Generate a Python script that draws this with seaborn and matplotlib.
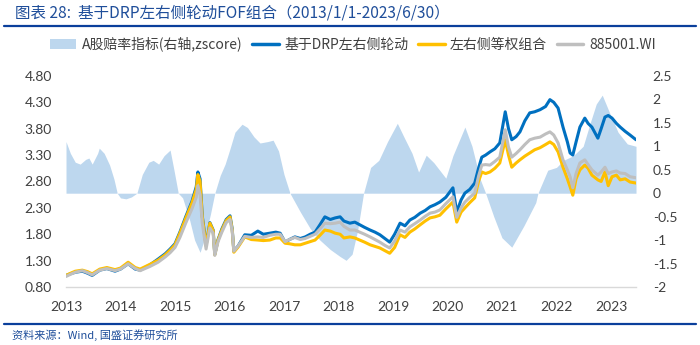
import matplotlib
matplotlib.use("Agg")
import matplotlib.pyplot as plt
import seaborn as sns
import pandas as pd
from matplotlib.patches import Patch
from matplotlib.lines import Line2D

# ---------------- data ----------------
line_t = [2013.00, 2013.08, 2013.17, 2013.30, 2013.40, 2013.48, 2013.62, 2013.75, 2013.90, 2014.00,
          2014.14, 2014.27, 2014.36, 2014.54, 2014.69, 2014.82, 2014.91, 2015.00, 2015.09, 2015.20,
          2015.31, 2015.39, 2015.42, 2015.46, 2015.50, 2015.57, 2015.64, 2015.70, 2015.73, 2015.79,
          2015.86, 2015.94, 2016.01, 2016.05, 2016.08, 2016.16, 2016.28, 2016.40, 2016.52, 2016.62,
          2016.74, 2016.85, 2016.93, 2017.02, 2017.10, 2017.20, 2017.30, 2017.39, 2017.48, 2017.57,
          2017.66, 2017.75, 2017.85, 2017.94, 2018.03, 2018.10, 2018.21, 2018.30, 2018.39, 2018.48,
          2018.58, 2018.67, 2018.76, 2018.85, 2018.94, 2019.03, 2019.13, 2019.22, 2019.31, 2019.40,
          2019.50, 2019.59, 2019.68, 2019.77, 2019.86, 2019.97, 2020.10, 2020.17, 2020.25, 2020.32,
          2020.41, 2020.50, 2020.57, 2020.63, 2020.70, 2020.78, 2020.87, 2020.96, 2021.06, 2021.12,
          2021.18, 2021.26, 2021.33, 2021.42, 2021.51, 2021.60, 2021.70, 2021.80, 2021.88, 2021.95,
          2022.03, 2022.12, 2022.20, 2022.25, 2022.30, 2022.36, 2022.43, 2022.52, 2022.58, 2022.65,
          2022.76, 2022.82, 2022.89, 2022.95, 2023.02, 2023.10, 2023.17, 2023.26, 2023.35, 2023.46]

drp = [1.02, 1.05, 1.08, 1.10, 1.06, 1.02, 1.12, 1.15, 1.10, 1.14,
       1.24, 1.14, 1.12, 1.22, 1.33, 1.43, 1.52, 1.62, 1.84, 2.14,
       2.42, 2.70, 2.98, 2.85, 2.15, 1.60, 2.02, 1.88, 1.42, 1.70,
       1.90, 2.08, 2.15, 1.90, 1.48, 1.58, 1.79, 1.78, 1.86, 1.80,
       1.82, 1.84, 1.82, 1.65, 1.70, 1.75, 1.72, 1.75, 1.80, 1.84,
       1.98, 2.13, 2.08, 2.11, 2.13, 2.05, 2.01, 2.03, 1.98, 1.93,
       1.88, 1.84, 1.79, 1.72, 1.65, 1.80, 2.01, 1.96, 2.07, 2.12,
       2.20, 2.25, 2.32, 2.36, 2.41, 2.50, 2.68, 2.22, 2.45, 2.58,
       2.65, 2.77, 3.05, 3.26, 3.30, 3.36, 3.42, 3.53, 4.12, 3.80,
       3.59, 3.65, 3.74, 3.95, 4.10, 4.12, 4.16, 4.22, 4.35, 4.30,
       4.19, 3.83, 3.55, 3.34, 3.30, 3.55, 3.83, 4.00, 3.90, 3.83,
       3.62, 3.80, 4.02, 4.05, 4.00, 3.90, 3.83, 3.75, 3.68, 3.59]

equal_w = [1.02, 1.06, 1.10, 1.12, 1.09, 1.05, 1.14, 1.17, 1.13, 1.16,
           1.27, 1.17, 1.14, 1.23, 1.31, 1.41, 1.50, 1.60, 1.82, 2.11,
           2.39, 2.65, 2.93, 2.80, 2.13, 1.58, 2.01, 1.87, 1.41, 1.69,
           1.88, 2.06, 2.13, 1.88, 1.46, 1.56, 1.75, 1.70, 1.69, 1.68,
           1.69, 1.73, 1.73, 1.63, 1.62, 1.60, 1.60, 1.63, 1.66, 1.69,
           1.78, 1.88, 1.86, 1.82, 1.80, 1.73, 1.75, 1.73, 1.69, 1.65,
           1.60, 1.57, 1.54, 1.49, 1.44, 1.55, 1.79, 1.74, 1.84, 1.90,
           1.98, 2.05, 2.11, 2.13, 2.16, 2.28, 2.41, 2.03, 2.22, 2.30,
           2.40, 2.49, 2.80, 2.98, 2.95, 2.98, 3.05, 3.15, 3.59, 3.30,
           3.07, 3.15, 3.21, 3.28, 3.34, 3.40, 3.44, 3.50, 3.55, 3.50,
           3.36, 3.07, 2.85, 2.70, 2.54, 2.85, 3.02, 3.11, 3.05, 2.92,
           2.83, 2.80, 2.98, 2.72, 2.89, 2.92, 2.83, 2.85, 2.79, 2.77]

wind_885001 = [1.00, 1.04, 1.08, 1.11, 1.07, 1.03, 1.12, 1.15, 1.11, 1.14,
               1.24, 1.15, 1.11, 1.19, 1.27, 1.37, 1.45, 1.55, 1.74, 2.02,
               2.28, 2.50, 2.72, 2.55, 2.02, 1.52, 1.92, 1.82, 1.40, 1.66,
               1.84, 2.02, 2.08, 1.86, 1.48, 1.58, 1.76, 1.74, 1.75, 1.74,
               1.78, 1.80, 1.80, 1.66, 1.70, 1.74, 1.70, 1.72, 1.76, 1.80,
               1.90, 2.01, 2.00, 2.01, 2.03, 1.95, 1.88, 1.88, 1.84, 1.80,
               1.75, 1.70, 1.65, 1.59, 1.54, 1.67, 1.88, 1.84, 1.94, 2.00,
               2.07, 2.14, 2.20, 2.22, 2.26, 2.38, 2.51, 2.12, 2.30, 2.41,
               2.50, 2.58, 2.90, 3.11, 3.12, 3.11, 3.18, 3.26, 3.78, 3.45,
               3.26, 3.33, 3.40, 3.50, 3.59, 3.62, 3.64, 3.70, 3.74, 3.68,
               3.53, 3.21, 3.02, 2.89, 2.68, 2.95, 3.15, 3.21, 3.12, 3.02,
               2.92, 2.98, 3.07, 2.95, 2.98, 3.00, 2.96, 2.95, 2.89, 2.87]

area_t = [2013.00, 2013.08, 2013.17, 2013.26, 2013.36, 2013.42, 2013.48, 2013.58, 2013.61, 2013.70,
          2013.80, 2013.88, 2013.94, 2014.00, 2014.10, 2014.20, 2014.30, 2014.40, 2014.52, 2014.60,
          2014.70, 2014.80, 2014.91, 2014.98, 2015.06, 2015.14, 2015.27, 2015.36, 2015.46, 2015.55,
          2015.65, 2015.73, 2015.83, 2015.92, 2016.01, 2016.10, 2016.23, 2016.33, 2016.45, 2016.56,
          2016.70, 2016.80, 2016.90, 2017.00, 2017.11, 2017.30, 2017.48, 2017.66, 2017.85, 2018.03,
          2018.14, 2018.25, 2018.35, 2018.46, 2018.59, 2018.74, 2018.90, 2019.08, 2019.20, 2019.35,
          2019.47, 2019.61, 2019.75, 2019.97, 2020.10, 2020.32, 2020.45, 2020.60, 2020.70, 2020.85,
          2021.00, 2021.18, 2021.40, 2021.62, 2021.66, 2021.84, 2022.00, 2022.13, 2022.31, 2022.49,
          2022.62, 2022.73, 2022.84, 2022.98, 2023.13, 2023.30, 2023.46]

odds_z = [1.10, 0.85, 0.66, 0.62, 0.72, 0.75, 0.62, 0.85, 0.96, 0.85,
          0.60, 0.30, 0.00, -0.10, -0.12, -0.08, 0.00, 0.40, 0.66, 0.70,
          0.62, 0.80, 0.92, 0.50, 0.00, -0.10, -0.58, -1.00, -1.26, -0.94,
          -0.45, 0.00, 0.38, 0.62, 0.95, 1.30, 1.47, 1.40, 1.20, 1.07,
          1.10, 1.13, 0.90, 0.40, 0.00, -0.40, -0.75, -1.00, -1.20, -1.35,
          -1.43, -1.30, -0.80, 0.00, 0.55, 0.70, 1.10, 1.49, 1.20, 0.85,
          0.45, 0.81, 0.65, 0.32, 0.80, 1.41, 1.00, 0.30, 0.00, -0.50,
          -0.95, -1.15, -0.70, -0.20, 0.00, 0.49, 0.55, 0.70, 0.80, 1.00,
          1.50, 1.90, 2.09, 1.70, 1.30, 1.05, 1.00]

year_labels = [str(y) for y in range(2013, 2024)]
left_ticks = [0.80, 1.30, 1.80, 2.30, 2.80, 3.30, 3.80, 4.30, 4.80]
right_ticks = [-2, -1.5, -1, -0.5, 0, 0.5, 1, 1.5, 2, 2.5]

series_names = ["基于DRP左右侧轮动", "左右侧等权组合", "885001.WI"]
area_name = "A股赔率指标(右轴,zscore)"

# ---------------- styling ----------------
sns.set_theme(style="white")
plt.rcParams["font.family"] = ["Lato", "Noto Sans CJK SC", "DejaVu Sans"]

C_AREA = "#BDD7EE"
C_BLUE = "#0070C0"
C_YEL = "#FFC000"
C_GRAY = "#BFBFBF"
C_TEXT = "#404040"
C_TITLE = "#1F4E9A"

df = pd.DataFrame({"t": line_t, series_names[0]: drp,
                   series_names[1]: equal_w, series_names[2]: wind_885001})
long = df.melt(id_vars="t", var_name="series", value_name="v")
area_df = pd.DataFrame({"t": area_t, "z": odds_z})

fig = plt.figure(figsize=(7.0, 3.45), dpi=100)
ax = fig.add_axes([0.0943, 0.168, 0.8143, 0.612])
ax2 = ax.twinx()

# area on right axis, drawn below the lines
ax2.fill_between(area_df["t"], 0, area_df["z"], color=C_AREA, linewidth=0)
ax2.set_ylim(-2, 2.5)
ax2.set_yticks(right_ticks)
ax2.set_yticklabels([("%g" % v) for v in right_ticks])

sns.lineplot(data=long, x="t", y="v", hue="series", hue_order=series_names,
             palette=[C_BLUE, C_YEL, C_GRAY], linewidth=2.2, ax=ax, legend=False)
ax.set_zorder(ax2.get_zorder() + 1)
ax.patch.set_visible(False)

ax.set_ylim(0.80, 4.80)
ax.set_yticks(left_ticks)
ax.set_yticklabels(["%.2f" % v for v in left_ticks])
ax.set_xlim(2013.0, 2023.46)
ax.set_xticks(list(range(2013, 2024)))
ax.set_xticklabels(year_labels)
ax.set_xlabel("")
ax.set_ylabel("")

for a in (ax, ax2):
    for s in a.spines.values():
        s.set_visible(False)
    a.grid(False)
ax.spines["bottom"].set_visible(True)
ax.spines["bottom"].set_color("#D9D9D9")
ax.spines["bottom"].set_linewidth(1.0)
ax.tick_params(axis="x", colors="#D9D9D9", length=4, width=1, direction="out",
               labelcolor=C_TEXT, labelsize=10, pad=6)
ax.tick_params(axis="y", length=0, labelcolor=C_TEXT, labelsize=10, pad=10)
ax2.tick_params(axis="y", length=0, labelcolor=C_TEXT, labelsize=10, pad=12)

# legend
handles = [Patch(facecolor=C_AREA, edgecolor="none"),
           Line2D([0], [0], color=C_BLUE, lw=2.5),
           Line2D([0], [0], color=C_YEL, lw=2.5),
           Line2D([0], [0], color=C_GRAY, lw=2.5)]
fig.legend(handles, [area_name] + series_names, loc="center", ncol=4,
           bbox_to_anchor=(0.504, 0.872), frameon=False,
           handlelength=1.9, handletextpad=0.4, columnspacing=0.7,
           labelcolor=C_TEXT, prop={"family": ["Noto Sans CJK SC", "DejaVu Sans"], "size": 10})

# title & source
fig.text(0.021, 0.962, "图表 28:  基于DRP左右侧轮动FOF组合（2013/1/1-2023/6/30）",
         ha="left", va="center", fontsize=11.2, color=C_TITLE, style="italic",
         family=["Noto Sans CJK SC", "DejaVu Sans"])
fig.add_artist(Line2D([0.006, 0.994], [0.925, 0.925], color="#0A3F9B", lw=1.6,
                      transform=fig.transFigure))
fig.add_artist(Line2D([0.006, 0.994], [0.061, 0.061], color="#0A3F9B", lw=1.6,
                      transform=fig.transFigure))
fig.text(0.017, 0.028, "资料来源：Wind, 国盛证券研究所", ha="left", va="center",
         fontsize=8, color=C_TITLE, style="italic",
         family=["Noto Sans CJK SC", "DejaVu Sans"])

fig.savefig("out.png", dpi=100)
